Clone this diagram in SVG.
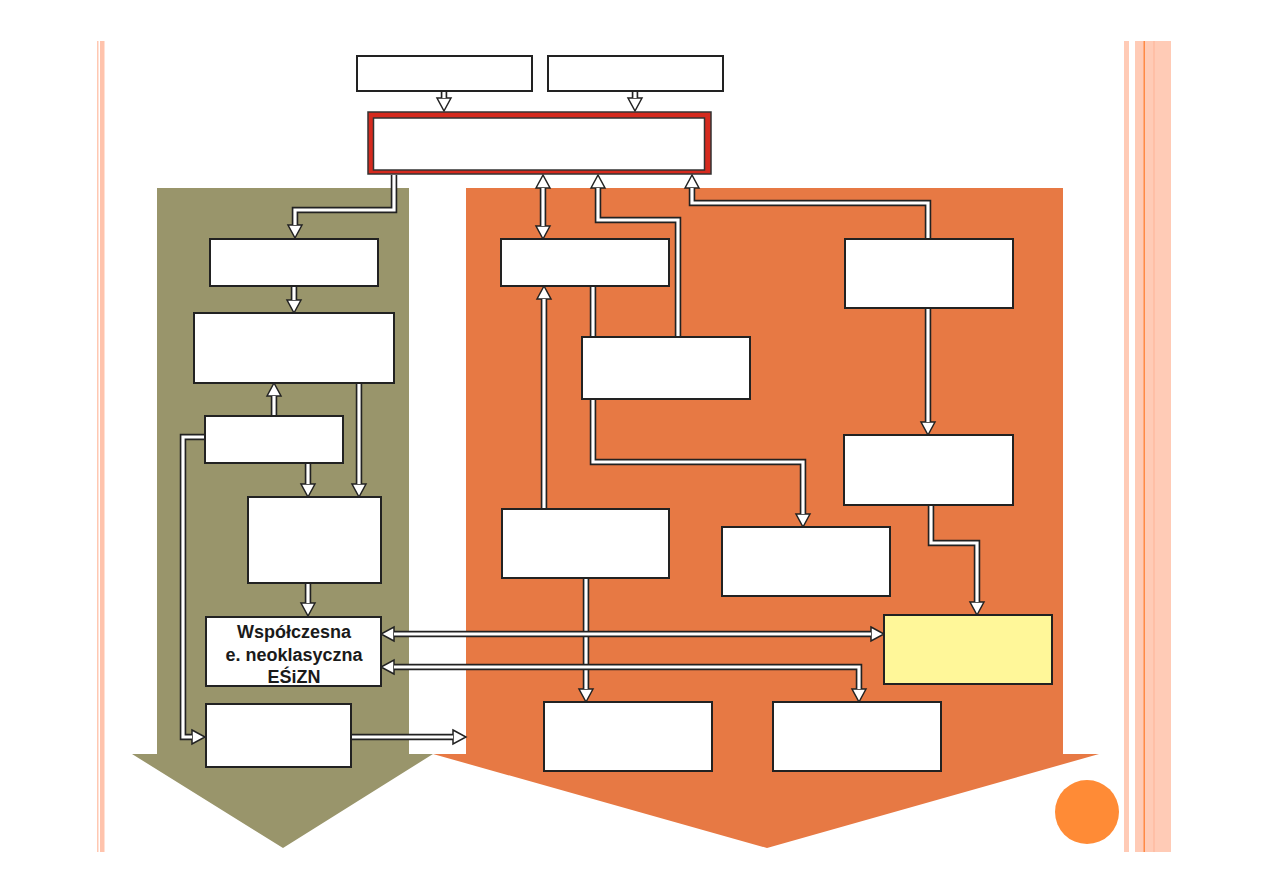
<svg xmlns="http://www.w3.org/2000/svg" width="1263" height="893" viewBox="0 0 1263 893">
<style>
.bx{fill:#fff;stroke:#222;stroke-width:2}
.o{fill:none;stroke:#222;stroke-width:6.5;stroke-linejoin:miter}
.w{fill:none;stroke:#fff;stroke-width:3.2;stroke-linejoin:miter}
.t{font-family:"Liberation Sans",Arial,sans-serif;font-weight:bold;font-size:18px;fill:#1a1a1a;text-anchor:middle}
</style>
<defs>
<marker id="ah" markerUnits="userSpaceOnUse" markerWidth="18" markerHeight="20" refX="0" refY="8" viewBox="-1 -1 18 20" orient="auto-start-reverse" overflow="visible">
<polygon points="0,1 13,8 0,15" fill="#fff" stroke="#222" stroke-width="1.5" stroke-linejoin="miter"/>
</marker>
</defs>
<rect width="1263" height="893" fill="#fff"/>
<g id="decor">
<rect x="97" y="41" width="1.5" height="811" fill="#FFC8B2"/>
<rect x="100" y="41" width="4.5" height="811" fill="#FFC3AC"/>
<rect x="1124" y="41" width="5" height="811" fill="#FFCBB6"/>
<rect x="1135" y="41" width="36" height="811" fill="#FFCBB6"/>
<rect x="1153" y="41" width="2" height="811" fill="#FFBFA6"/>
<rect x="1143.5" y="41" width="1.5" height="811" fill="#FF8A45"/>
<polygon id="olive-arrow" points="157,188 409,188 409,754 433,754 283,848 132,754 157,754" fill="#99956B"/>
<polygon id="orange-arrow" points="466,188 1063,188 1063,754 1099,754 767,848 433,754 466,754" fill="#E77944"/>
<circle cx="1087" cy="812" r="32" fill="#FF8B36"/>
</g>
<g id="connectors">
<path class="o" d="M444 91V98" marker-end="url(#ah)"/><path class="w" d="M444 90V98"/>
<path class="o" d="M635 91V98" marker-end="url(#ah)"/><path class="w" d="M635 90V98"/>
<path class="o" d="M394 175V210H295V225" marker-end="url(#ah)"/><path class="w" d="M394 174V210H295V225"/>
<path class="o" d="M294 286V300" marker-end="url(#ah)"/><path class="w" d="M294 285V300"/>
<path class="o" d="M274 416V396" marker-end="url(#ah)"/><path class="w" d="M274 417V396"/>
<path class="o" d="M359 383V484" marker-end="url(#ah)"/><path class="w" d="M359 382V484"/>
<path class="o" d="M308 463V484" marker-end="url(#ah)"/><path class="w" d="M308 462V484"/>
<path class="o" d="M205 437H183V737H192" marker-end="url(#ah)"/><path class="w" d="M206 437H183V737H192"/>
<path class="o" d="M308 583V603" marker-end="url(#ah)"/><path class="w" d="M308 582V603"/>
<path class="o" d="M351 737H453" marker-end="url(#ah)"/><path class="w" d="M350 737H453"/>
<path class="o" d="M543 188V226" marker-start="url(#ah)" marker-end="url(#ah)"/><path class="w" d="M543 188V226"/>
<path class="o" d="M678 337V220H598V188" marker-end="url(#ah)"/><path class="w" d="M678 338V220H598V188"/>
<path class="o" d="M928 239V203H692V188" marker-end="url(#ah)"/><path class="w" d="M928 240V203H692V188"/>
<path class="o" d="M544 509V299" marker-end="url(#ah)"/><path class="w" d="M544 510V299"/>
<path class="o" d="M593 286V337"/><path class="w" d="M593 285V338"/>
<path class="o" d="M593 399V462H803V514" marker-end="url(#ah)"/><path class="w" d="M593 398V462H803V514"/>
<path class="o" d="M928 308V422" marker-end="url(#ah)"/><path class="w" d="M928 307V422"/>
<path class="o" d="M931 505V543H977V602" marker-end="url(#ah)"/><path class="w" d="M931 504V543H977V602"/>
<path class="o" d="M586 578V689" marker-end="url(#ah)"/><path class="w" d="M586 577V689"/>
<path class="o" d="M394 634H871" marker-start="url(#ah)" marker-end="url(#ah)"/><path class="w" d="M394 634H871"/>
<path class="o" d="M394 667H859V689" marker-start="url(#ah)" marker-end="url(#ah)"/><path class="w" d="M394 667H859V689"/>
</g>
<g id="top1"><rect class="bx" x="357" y="56" width="175" height="35"/></g>
<g id="top2"><rect class="bx" x="548" y="56" width="175" height="35"/></g>
<g id="central">
<rect x="368" y="112" width="343" height="62" fill="#D52A1E" stroke="#333" stroke-width="1.5"/>
<rect x="373.5" y="118" width="331" height="52" fill="#fff" stroke="#333" stroke-width="1.5"/>
</g>
<g id="boxA"><rect class="bx" x="210" y="239" width="168" height="47"/></g>
<g id="boxB"><rect class="bx" x="194" y="313" width="200" height="70"/></g>
<g id="boxC"><rect class="bx" x="205" y="416" width="138" height="47"/></g>
<g id="boxD"><rect class="bx" x="248" y="497" width="133" height="86"/></g>
<g id="boxE"><rect class="bx" x="206" y="617" width="175" height="69"/>
<text class="t" x="294" y="638">Współczesna</text>
<text class="t" x="294" y="661">e. neoklasyczna</text>
<text class="t" x="294" y="683">EŚiZN</text>
</g>
<g id="boxF"><rect class="bx" x="206" y="704" width="145" height="63"/></g>
<g id="boxG"><rect class="bx" x="501" y="239" width="168" height="47"/></g>
<g id="boxH"><rect class="bx" x="582" y="337" width="168" height="62"/></g>
<g id="boxI"><rect class="bx" x="845" y="239" width="168" height="69"/></g>
<g id="boxL"><rect class="bx" x="844" y="435" width="169" height="70"/></g>
<g id="boxJ"><rect class="bx" x="502" y="509" width="167" height="69"/></g>
<g id="boxK"><rect class="bx" x="722" y="527" width="168" height="69"/></g>
<g id="boxM"><rect class="bx" x="884" y="615" width="168" height="69" style="fill:#FFF799"/></g>
<g id="boxN"><rect class="bx" x="544" y="702" width="168" height="69"/></g>
<g id="boxO"><rect class="bx" x="773" y="702" width="168" height="69"/></g>
</svg>
